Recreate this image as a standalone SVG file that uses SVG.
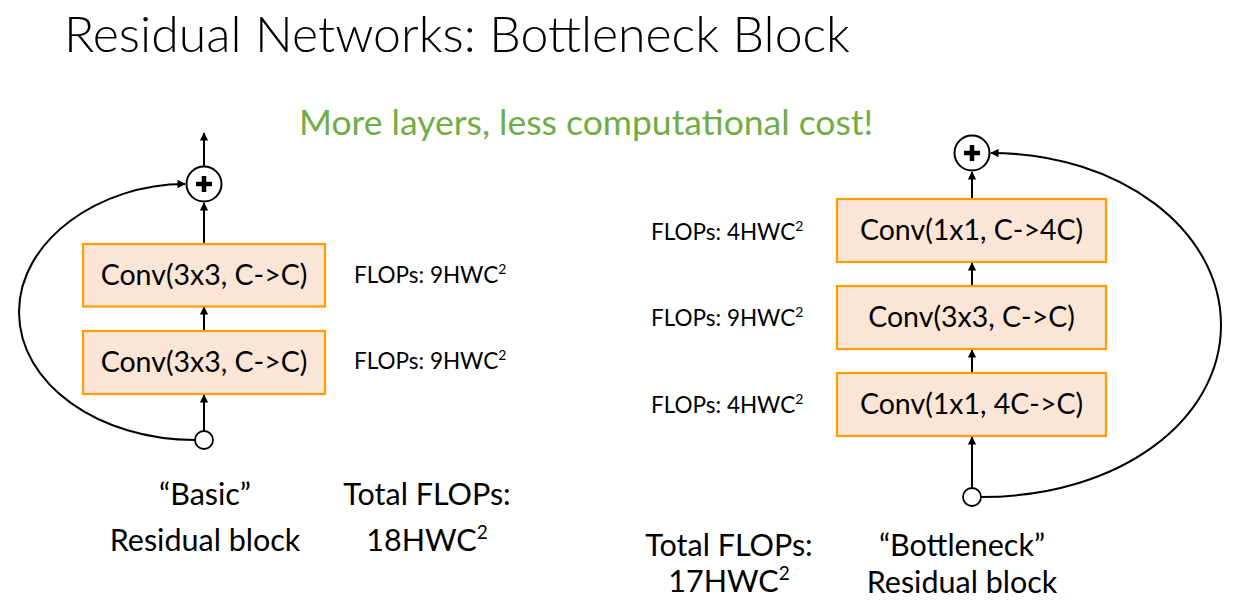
<svg xmlns="http://www.w3.org/2000/svg" width="1234" height="611" viewBox="0 0 1234 611">
  <style>
    .box { fill: #FBE5D6; stroke: #FF9C00; stroke-width: 2.2; }
    .lbl { font-family: Lato, "Open Sans", sans-serif; fill: #000; }
    .box-t { font-size: 28.5px; text-anchor: middle; }
    .flop { font-size: 22.5px; }
    .cap { font-size: 30.5px; text-anchor: middle; }
    .edge { fill: none; stroke: #000; stroke-width: 2; }
    .sum { fill: #fff; stroke: #000; stroke-width: 2; }
    .plus { stroke: #000; stroke-width: 4.5; }
    .src { fill: #fff; stroke: #000; stroke-width: 1.8; }
  </style>
  <defs>
    <marker id="arr" viewBox="0 0 10 10" refX="9" refY="5" markerWidth="4.2" markerHeight="4.2" orient="auto" markerUnits="strokeWidth">
      <path d="M0,0 L10,5 L0,10 z" fill="#000"/>
    </marker>
  </defs>
  <rect width="1234" height="611" fill="#fff"/>

  <text x="64" y="52" class="lbl" font-size="50" font-weight="300">Residual Networks: Bottleneck Block</text>
  <text x="299" y="135" class="lbl" font-size="35.5" style="fill:#70AD47">More layers, less computational cost!</text>

  <!-- connectors -->
  <g id="connectors">
    <!-- basic block -->
    <path class="edge" marker-end="url(#arr)" d="M204,166 L204,133"/>
    <path class="edge" marker-end="url(#arr)" d="M204,244 L204,203"/>
    <path class="edge" marker-end="url(#arr)" d="M204,331 L204,307"/>
    <path class="edge" marker-end="url(#arr)" d="M204,431 L204,395"/>
    <path class="edge" marker-end="url(#arr)" d="M195,440 C100,440 19,385 19,312 C19,240 100,184 185,184"/>
    <!-- bottleneck block -->
    <path class="edge" marker-end="url(#arr)" d="M972,199 L972,172"/>
    <path class="edge" marker-end="url(#arr)" d="M972,286 L972,263"/>
    <path class="edge" marker-end="url(#arr)" d="M972,373 L972,350"/>
    <path class="edge" marker-end="url(#arr)" d="M972,488 L972,437"/>
    <path class="edge" marker-end="url(#arr)" d="M981,497 C1120,497 1221,420 1221,325 C1221,230 1120,153 991,153"/>
  </g>

  <!-- basic residual block -->
  <g id="basic-sum">
    <circle class="sum" cx="204" cy="184" r="17.5"/>
    <path class="plus" d="M196,184 H212 M204,176 V192"/>
  </g>
  <g id="basic-conv2">
    <rect class="box" x="83" y="244" width="242" height="62.5"/>
    <text class="lbl box-t" x="204" y="285">Conv(3x3, C-&gt;C)</text>
  </g>
  <g id="basic-conv1">
    <rect class="box" x="83" y="331" width="242" height="63"/>
    <text class="lbl box-t" x="204" y="372">Conv(3x3, C-&gt;C)</text>
  </g>
  <g id="basic-input">
    <circle class="src" cx="204" cy="440" r="9"/>
  </g>
  <g id="basic-notes">
    <text class="lbl flop" x="354" y="283">FLOPs: 9HWC<tspan font-size="14" dy="-9">2</tspan></text>
    <text class="lbl flop" x="354" y="369">FLOPs: 9HWC<tspan font-size="14" dy="-9">2</tspan></text>
    <text class="lbl cap" x="205" y="505">“Basic”</text>
    <text class="lbl cap" x="205" y="551">Residual block</text>
    <text class="lbl cap" x="427" y="505">Total FLOPs:</text>
    <text class="lbl cap" x="427" y="551">18HWC<tspan font-size="19" dy="-12">2</tspan></text>
  </g>

  <!-- bottleneck residual block -->
  <g id="bneck-sum">
    <circle class="sum" cx="972" cy="153" r="17.5"/>
    <path class="plus" d="M964,153 H980 M972,145 V161"/>
  </g>
  <g id="bneck-conv3">
    <rect class="box" x="837" y="199" width="269" height="63"/>
    <text class="lbl box-t" x="971.5" y="240">Conv(1x1, C-&gt;4C)</text>
  </g>
  <g id="bneck-conv2">
    <rect class="box" x="837" y="286" width="269" height="63"/>
    <text class="lbl box-t" x="971.5" y="327">Conv(3x3, C-&gt;C)</text>
  </g>
  <g id="bneck-conv1">
    <rect class="box" x="837" y="373" width="269" height="63"/>
    <text class="lbl box-t" x="971.5" y="414">Conv(1x1, 4C-&gt;C)</text>
  </g>
  <g id="bneck-input">
    <circle class="src" cx="972" cy="497" r="9"/>
  </g>
  <g id="bneck-notes">
    <text class="lbl flop" x="651" y="240">FLOPs: 4HWC<tspan font-size="14" dy="-9">2</tspan></text>
    <text class="lbl flop" x="651" y="326">FLOPs: 9HWC<tspan font-size="14" dy="-9">2</tspan></text>
    <text class="lbl flop" x="651" y="413">FLOPs: 4HWC<tspan font-size="14" dy="-9">2</tspan></text>
    <text class="lbl cap" x="729" y="556">Total FLOPs:</text>
    <text class="lbl cap" x="729" y="592">17HWC<tspan font-size="19" dy="-12">2</tspan></text>
    <text class="lbl cap" x="962" y="556">“Bottleneck”</text>
    <text class="lbl cap" x="962" y="593">Residual block</text>
  </g>
</svg>
